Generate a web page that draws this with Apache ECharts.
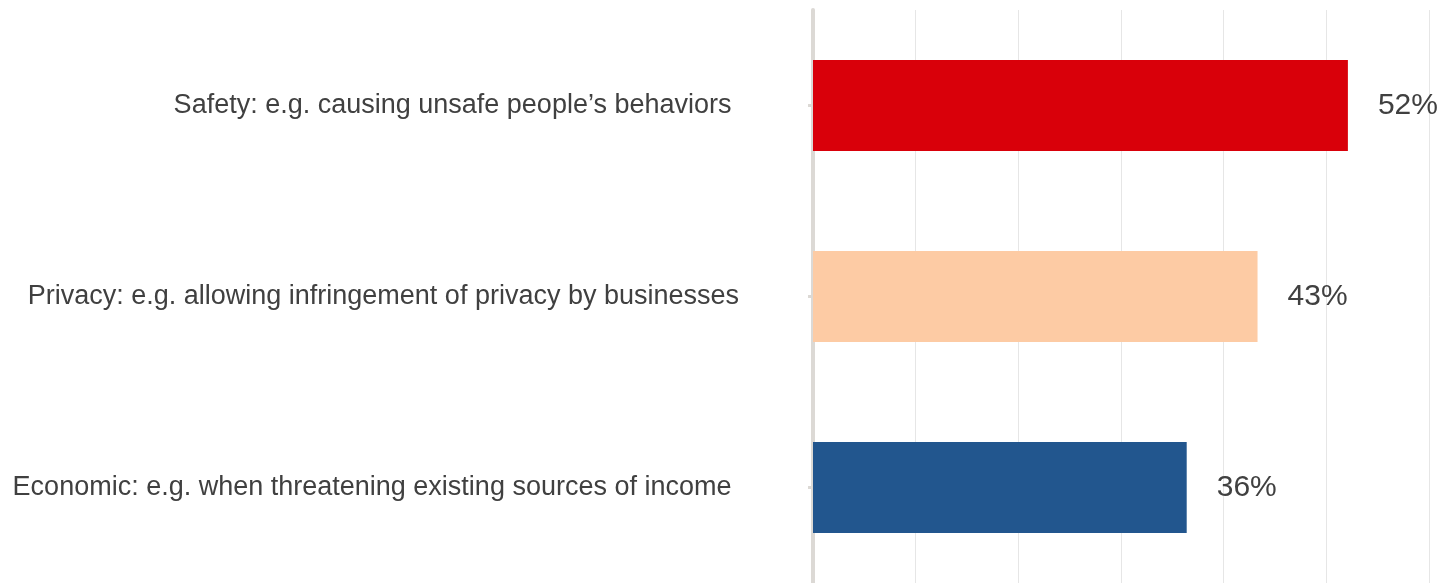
<!DOCTYPE html>
<html>
<head>
<meta charset="utf-8">
<script src="https://cdn.jsdelivr.net/npm/echarts@6/dist/echarts.min.js"></script>
<style>html,body{margin:0;padding:0;background:#fff}#c{width:1451px;height:583px}</style>
</head>
<body>
<div id="c"></div>
<script>
const categories = [
  "Economic: e.g. when threatening existing sources of income ",
  "Privacy: e.g. allowing infringement of privacy by businesses",
  "Safety: e.g. causing unsafe people\u2019s behaviors "
];
const values = [36.4, 43.3, 52.1];
const labels = ["36%", "43%", "52%"];
const colors = ["#22568e", "#fdcba4", "#d9000a"];

const chart = echarts.init(document.getElementById('c'));
chart.setOption({
  animation: false,
  grid: { left: 813, right: 22, top: 10, bottom: -2, containLabel: false },
  xAxis: {
    type: 'value', min: 0, max: 60, interval: 10,
    axisLabel: { show: false }, axisLine: { show: false }, axisTick: { show: false },
    splitLine: { show: true, lineStyle: { color: '#e6e6e6', width: 1 } }
  },
  yAxis: {
    type: 'category', data: categories, offset: 3,
    axisLine: { show: true, lineStyle: { color: '#dcd9d5', width: 4 } },
    axisTick: { show: true, alignWithLabel: true, length: 5, lineStyle: { color: '#dcd9d5', width: 3 } },
    axisLabel: { margin: 71, color: '#404040', fontSize: 27, fontFamily: 'Liberation Sans, Arial, sans-serif' }
  },
  series: [{
    type: 'bar', barWidth: 91,
    data: values.map((v, i) => ({ value: v, itemStyle: { color: colors[i] } })),
    label: {
      show: true, position: 'right', distance: 30,
      color: '#404040', fontSize: 30, fontFamily: 'Liberation Sans, Arial, sans-serif',
      formatter: p => labels[p.dataIndex]
    }
  }]
});
</script>
</body>
</html>
